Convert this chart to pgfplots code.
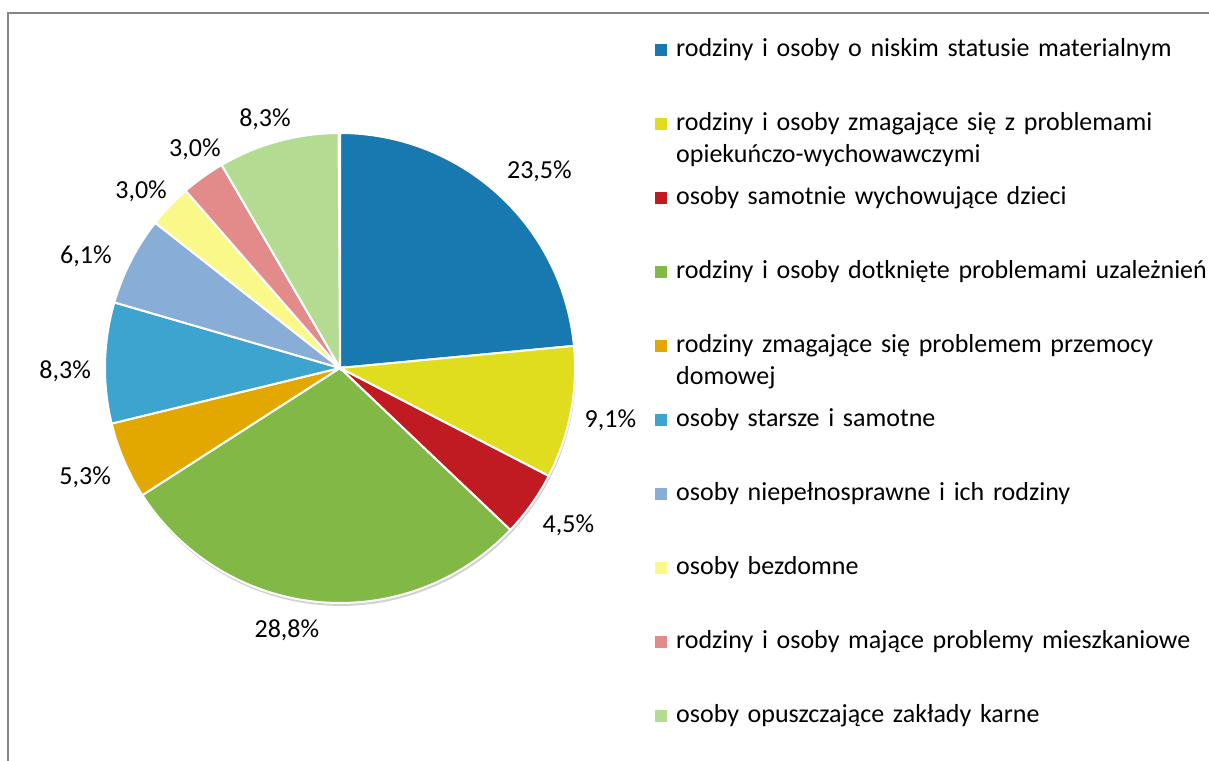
\documentclass[border=0pt]{standalone}
\usepackage{fontspec}
\setmainfont{Carlito}
\usepackage{pgfplots}
\pgfplotsset{compat=1.18}

\definecolor{c1}{HTML}{1878B0}
\definecolor{c2}{HTML}{E0DD1F}
\definecolor{c3}{HTML}{C01A23}
\definecolor{c4}{HTML}{82B846}
\definecolor{c5}{HTML}{E2A800}
\definecolor{c6}{HTML}{3DA3CF}
\definecolor{c7}{HTML}{88ADD6}
\definecolor{c8}{HTML}{FBF88A}
\definecolor{c9}{HTML}{E38A8A}
\definecolor{c10}{HTML}{B3DB92}
\definecolor{framegray}{HTML}{868686}

% share (%) / colour / label nudge (deg) / extra label distance, clockwise from 12 o'clock
\def\piedata{23.5/c1/-3/15,9.1/c2/0/0,4.5/c3/1/8,28.8/c4/-6/8,5.3/c5/0/0,8.3/c6/2/0,6.1/c7/3.5/0,3.0/c8/2/0,3.0/c9/-2/0,8.3/c10/1.5/0}
\def\cx{340}\def\cy{393}\def\rr{235}

\begin{document}
\begin{tikzpicture}[font=\fontsize{26bp}{32bp}\selectfont]
\useasboundingbox (0,0) rectangle (1209bp,761bp);
\begin{axis}[
  width=1209bp, height=761bp, scale only axis,
  xmin=0, xmax=1209, ymin=0, ymax=761,
  hide axis, clip=false,
  legend cell align=left,
  legend style={at={(axis cs:655,720)}, anchor=north west, draw=none, fill=none,
    inner sep=0pt, row sep=0pt,
    nodes={inner sep=0pt, text height=15bp, text depth=59bp, text width=540bp, align=left}},
  legend image code/.code={\fill[#1, draw=none] (0bp,22bp) rectangle (12bp,34bp);},
  /tikz/every odd column/.append style={column sep=9bp},
]
\draw[framegray, line width=2bp] (axis cs:8,0) -- (axis cs:8,748) -- (axis cs:1215,748);

% soft shadow under the pie
\addplot[forget plot, fill=black!18, draw=none, domain=0:360, samples=120]
  ({\cx+1+\rr*cos(x)},{\cy-3+\rr*sin(x)});

\xdef\cum{0}
\foreach \v/\c/\n/\d in \piedata {
  \pgfmathsetmacro\a{90-3.6*\cum}
  \pgfmathsetmacro\b{90-3.6*(\cum+\v)}
  \pgfmathsetmacro\m{(\a+\b)/2+\n}
  \pgfmathsetmacro\lx{\cx+(247+\d)*cos(\m)}
  \pgfmathsetmacro\ly{\cy+(247+\d)*sin(\m)}
  \pgfmathsetmacro\an{mod(\m+540,360)}
  \edef\slice{%
    \noexpand\addplot[fill=\c, draw=white, line width=2bp, domain=\b:\a, samples=80]
      ({\cx+\rr*cos(x)},{\cy+\rr*sin(x)}) -- (axis cs:\cx,\cy) -- cycle;
    \noexpand\node[anchor=\an, inner sep=2bp] at (axis cs:\lx,\ly)
      {\noexpand\pgfmathprintnumber[fixed,fixed zerofill,precision=1,use comma,assume math mode=true]{\v}\noexpand\%};}
  \slice
  \pgfmathsetmacro\cum{\cum+\v}\xdef\cum{\cum}
}

\legend{rodziny i osoby o niskim statusie materialnym,
  {rodziny i osoby zmagające się z problemami\\opiekuńczo-wychowawczymi},
  osoby samotnie wychowujące dzieci,
  rodziny i osoby dotknięte problemami uzależnień,
  {rodziny zmagające się problemem przemocy\\domowej},
  osoby starsze i samotne,
  osoby niepełnosprawne i ich rodziny,
  osoby bezdomne,
  rodziny i osoby mające problemy mieszkaniowe,
  osoby opuszczające zakłady karne}
\end{axis}
\end{tikzpicture}
\end{document}
